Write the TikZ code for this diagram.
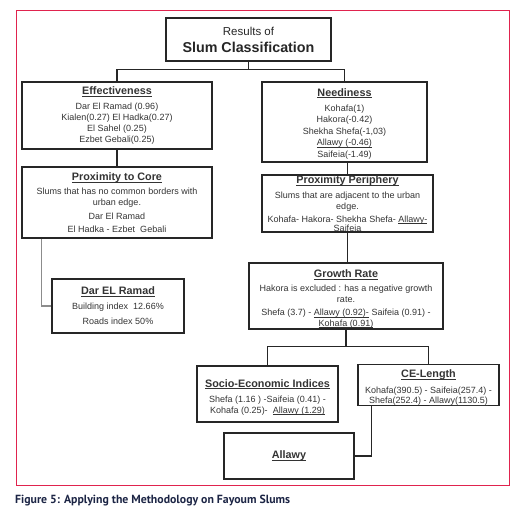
\documentclass[tikz,border=0pt]{standalone}
\usepackage{fontspec}
\setmainfont{Liberation Sans}
\newfontfamily\captionfont{PT Sans}
\usepackage{tikz}

\definecolor{framered}{HTML}{E0234E}
\definecolor{captionblue}{HTML}{1C2545}
\newsavebox\ulbox
\newcommand{\ul}[1]{\sbox\ulbox{#1}\rlap{\rule[-1.6pt]{\wd\ulbox}{0.5pt}}\usebox\ulbox}
\newcommand{\hd}[1]{{\fontsize{10.8}{13}\selectfont\bfseries\sbox\ulbox{#1}\rlap{\rule[-2pt]{\wd\ulbox}{0.8pt}}\usebox\ulbox}}

\begin{document}
\begin{tikzpicture}[x=1pt,y=-1pt,>=stealth,
  box/.style={draw=black!85, line width=1.4pt, inner sep=0pt, align=center,
    text=black!80, font=\fontsize{9}{11}\selectfont},
  link/.style={draw=black!85, line width=1.5pt},
  greylink/.style={draw=black!45, line width=1.3pt}]
\useasboundingbox (0,0) rectangle (519,518);
\draw[framered, line width=0.8pt] (16,10) rectangle (509,485);
% top of the tree
\node[box, minimum width=165pt, minimum height=43pt, text=black!85] (title) at (248.5,39.5)
  {{\fontsize{11.5}{13}\selectfont Results of}\\[6pt]{\fontsize{14.3}{16}\selectfont\bfseries Slum Classification}};
\node[box, minimum width=190pt, minimum height=67pt] (eff) at (117,115.5)
  {\hd{Effectiveness}\\[4pt] Dar El Ramad (0.96)\\ Kialen(0.27) El Hadka(0.27)\\ El Sahel (0.25)\\ Ezbet Gebali(0.25)};
\node[box, minimum width=165pt, minimum height=80pt] (need) at (344.5,122)
  {\rule{0pt}{11pt}\hd{Neediness}\\[4pt] Kohafa(1)\\[0.5pt] Hakora(-0.42)\\[0.5pt] Shekha Shefa(-1,03)\\[0.5pt] \ul{Allawy (-0.46)}\\[0.5pt] Saifeia(-1.49)};
% left branch
\node[box, minimum width=190pt, minimum height=71pt] (core) at (117,202.5)
  {\hd{Proximity to Core}\\[3pt] Slums that has no common borders with\\ urban edge.\\[3pt] Dar El Ramad\\[2pt] El Hadka - Ezbet~~Gebali};
\node[box, minimum width=132pt, minimum height=54pt] (dar) at (118,306)
  {\hd{Dar EL Ramad}\\[4pt] Building index~~12.66\%\\[4pt] Roads index 50\%};
% right branch
\node[box, minimum width=171pt, minimum height=57pt] (periph) at (347.5,203.5)
  {\hd{Proximity Periphery}\\[4pt] Slums that are adjacent to the urban\\ edge.\\[2pt] Kohafa- Hakora- Shekha Shefa- \ul{Allawy-}\\[-2pt] Saifeia};
\node[box, minimum width=194pt, minimum height=66pt] (growth) at (346,296)
  {\rule{0pt}{14pt}\hd{Growth Rate}\\[3pt] Hakora is excluded : has a negative growth\\ rate.\\[2pt] Shefa (3.7) - \ul{Allawy (0.92)-} Saifeia (0.91) -\\[-0.5pt] \ul{Kohafa (0.91)}};
\node[box, minimum width=141pt, minimum height=56pt] (socio) at (267.5,394)
  {\rule{0pt}{14pt}\hd{Socio-Economic Indices}\\[4pt] Shefa (1.16 ) -Saifeia (0.41) -\\ Kohafa (0.25)-~~\ul{Allawy (1.29)}};
\node[box, minimum width=141pt, minimum height=40pt] (ce) at (428.5,385)
  {\rule{0pt}{13pt}\hd{CE-Length}\\[5pt] Kohafa(390.5) - Saifeia(257.4) -\\[-1pt] Shefa(252.4) - \ul{Allawy(1130.5)}};
\node[box, minimum width=130pt, minimum height=46pt] (allawy) at (289,456)
  {\hd{Allawy}};
% connectors
\draw[link] (title.south) -- ++(0,8) coordinate (tsplit);
\draw[link] (eff.north) |- (tsplit) -| (need.north);
\draw[link] (eff.south) -- (core.north);
\draw[greylink] ([xshift=20pt]core.south west) |- (dar.west);
\draw[link] (periph.north) -- (periph.north |- need.south);
\draw[link] (periph.south) -- (periph.south |- growth.north);
\draw[link] (growth.south) -- ++(0,17) coordinate (gsplit);
\draw[link] (socio.north) |- (gsplit) -| (ce.north);
\draw[link] ([xshift=14pt]ce.south west) |- (allawy.east);
% caption
\node[anchor=west, inner sep=0pt, text=captionblue, font=\captionfont\bfseries\fontsize{11.8}{13}\selectfont] (caption) at (15,501)
  {Figure 5: Applying the Methodology on Fayoum Slums};
\end{tikzpicture}
\end{document}
